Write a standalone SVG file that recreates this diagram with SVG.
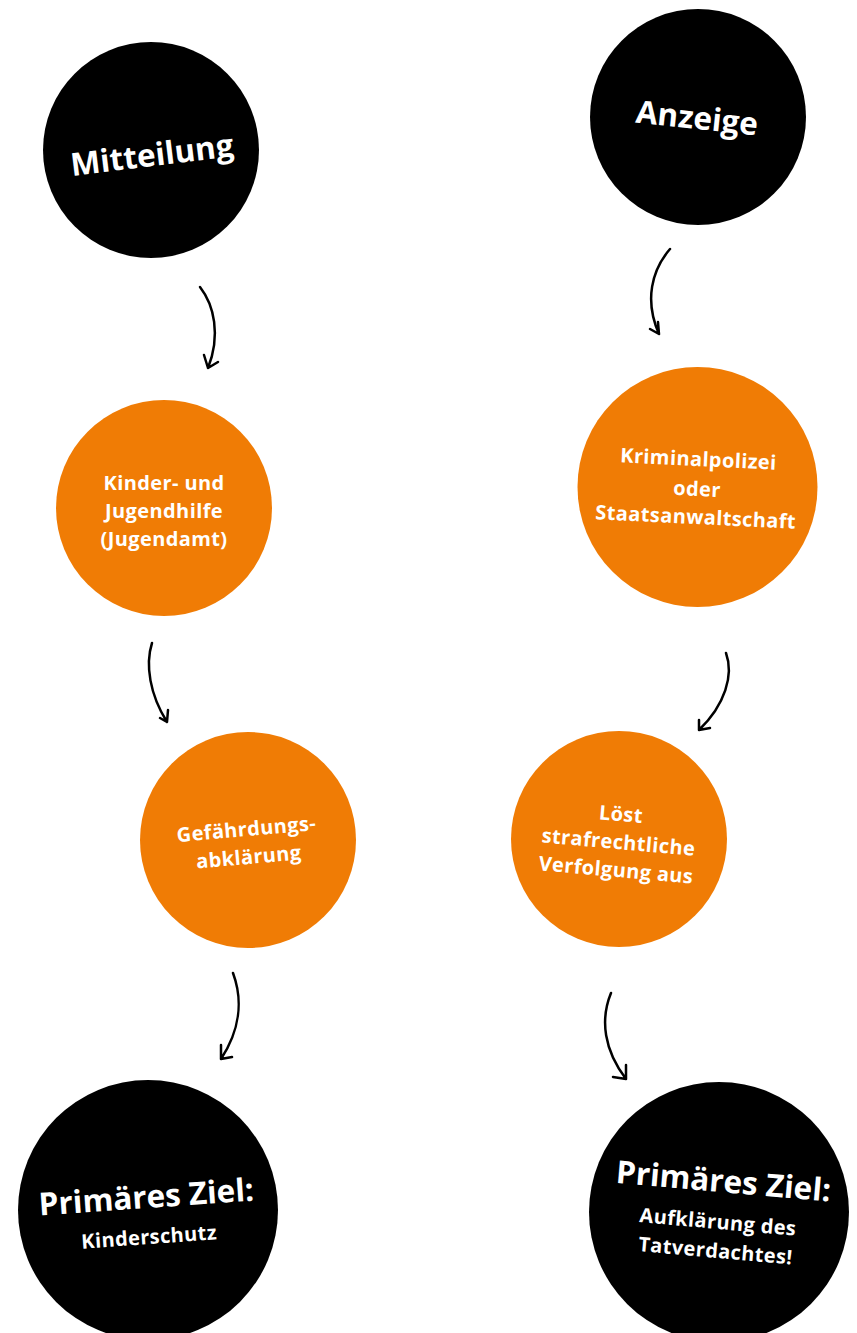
<svg xmlns="http://www.w3.org/2000/svg" width="857" height="1333" viewBox="0 0 857 1333">
<style>
.black{fill:#000}
.orange{fill:#F07C05}
text{font-family:"Open Sans","Noto Sans","Liberation Sans",sans-serif;fill:#fff;text-anchor:middle;font-weight:600}
.big{font-size:31.5px;font-weight:700}
.mid{font-size:20px;letter-spacing:0.4px;font-weight:700}
.arrow{fill:none;stroke:#000;stroke-width:2.5;stroke-linecap:round;stroke-linejoin:round}
</style>
<rect width="857" height="1333" fill="#fff"/>
<g id="mitteilung">
<circle class="black" cx="151" cy="150" r="108"/>
<text class="big" transform="rotate(-7 152 155)" x="152" y="166">Mitteilung</text>
</g>
<g id="anzeige">
<circle class="black" cx="698" cy="117" r="108"/>
<text class="big" transform="rotate(6 697 118)" x="697" y="129">Anzeige</text>
</g>
<g id="jugendhilfe">
<circle class="orange" cx="164" cy="508" r="108"/>
<text class="mid" x="164" y="490">Kinder- und</text>
<text class="mid" x="164" y="518">Jugendhilfe</text>
<text class="mid" x="164" y="546">(Jugendamt)</text>
</g>
<g id="kriminalpolizei">
<circle class="orange" cx="697.5" cy="487" r="120"/>
<g transform="rotate(2.7 697 490)">
<text class="mid" x="697" y="466">Kriminalpolizei</text>
<text class="mid" x="697" y="496">oder</text>
<text class="mid" x="697" y="524">Staatsanwaltschaft</text>
</g>
</g>
<g id="gefaehrdung">
<circle class="orange" cx="248" cy="840" r="108"/>
<g transform="rotate(-5 248 848)">
<text class="mid" x="248" y="836">Gefährdungs-</text>
<text class="mid" x="248" y="864">abklärung</text>
</g>
</g>
<g id="strafverfolgung">
<circle class="orange" cx="619" cy="839" r="108"/>
<g transform="rotate(5 618 848)">
<text class="mid" x="618" y="821">Löst</text>
<text class="mid" x="618" y="849">strafrechtliche</text>
<text class="mid" x="618" y="877">Verfolgung aus</text>
</g>
</g>
<g id="ziel-kinderschutz">
<circle class="black" cx="148" cy="1210" r="130"/>
<g transform="rotate(-4 148 1222)">
<text class="big" x="148" y="1208">Primäres Ziel:</text>
<text class="mid" x="148" y="1244">Kinderschutz</text>
</g>
</g>
<g id="ziel-aufklaerung">
<circle class="black" cx="719" cy="1212" r="130"/>
<g transform="rotate(5 719 1222)">
<text class="big" x="720" y="1192">Primäres Ziel:</text>
<text class="mid" x="718" y="1229">Aufklärung des</text>
<text class="mid" x="718" y="1258">Tatverdachtes!</text>
</g>
</g>
<g id="connectors">
<path class="arrow" d="M200 287 C214 305 221 335 208 368 M204 355 L208 368 L218 362"/>
<path class="arrow" d="M670 249 C652 270 644 300 659 334 M650 329 L659 334 L658 322"/>
<path class="arrow" d="M152 643 C145 665 150 695 167 722 M160 718 L167 722 L168 710"/>
<path class="arrow" d="M726 653 C734 675 725 705 699 730 M699 720 L699 730 L710 728"/>
<path class="arrow" d="M233 973 C243 1000 240 1030 221 1059 M221 1045 L221 1059 L232 1057"/>
<path class="arrow" d="M611 993 C600 1020 604 1050 626 1079 M613 1077 L626 1079 L626 1065"/>
</g>
</svg>
